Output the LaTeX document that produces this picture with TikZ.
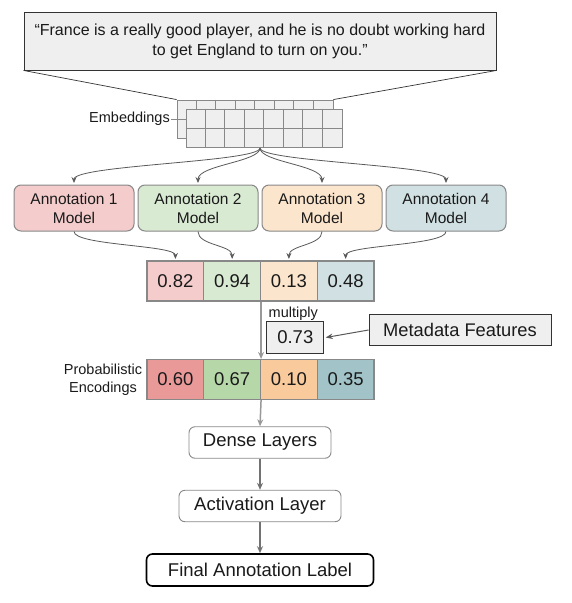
\documentclass[tikz,border=0pt]{standalone}
\usepackage{fontspec}
\setmainfont{Liberation Sans}
\usetikzlibrary{arrows.meta,calc}
\definecolor{rA}{HTML}{F4CCCC}
\definecolor{gA}{HTML}{D9EAD3}
\definecolor{oA}{HTML}{FCE5CD}
\definecolor{cA}{HTML}{D0E0E3}
\definecolor{rB}{HTML}{EA9999}
\definecolor{gB}{HTML}{B6D7A8}
\definecolor{oB}{HTML}{F9CB9C}
\definecolor{cB}{HTML}{A2C4C9}
\definecolor{lgray}{HTML}{EFEFEF}
\definecolor{bord}{HTML}{888888}
\definecolor{dark}{HTML}{333333}
\definecolor{txt}{HTML}{1A1A1A}
\definecolor{arr}{HTML}{595959}
\definecolor{vln}{HTML}{999999}
\tikzset{
  quotebox/.style={draw=dark, fill=lgray, line width=0.9pt, minimum width=472pt, minimum height=58pt, inner sep=0pt, align=center, font=\fontsize{16}{20}\selectfont, text=txt},
  gridbox/.style={draw=bord, fill=lgray, line width=0.9pt, minimum width=156pt, minimum height=38pt, inner sep=0pt},
  gridline/.style={draw=bord, line width=0.9pt},
  annot/.style={draw=bord, line width=1pt, rounded corners=7pt, minimum width=120pt, minimum height=46pt, align=center, font=\fontsize{15.5}{19}\selectfont, inner sep=0pt, text=txt},
  cell/.style={draw=bord, line width=1.1pt, minimum width=56.75pt, minimum height=40pt, inner sep=0pt, font=\fontsize{18.5}{22}\selectfont, text=txt},
  flatbox/.style={draw=dark, fill=lgray, line width=0.9pt, inner sep=0pt, text=txt, font=\fontsize{18.5}{22}\selectfont},
  layerbox/.style={draw=bord, line width=0.9pt, rounded corners=6pt, minimum height=31.5pt, inner sep=0pt, font=\fontsize{18.5}{22}\selectfont, text=txt},
  finalbox/.style={draw=black, line width=1.6pt, rounded corners=6pt, minimum height=32pt, inner sep=0pt, font=\fontsize{18.5}{22}\selectfont, text=txt},
  smalltext/.style={font=\fontsize{14.5}{18}\selectfont, text=txt, align=center, inner sep=0pt},
  thinline/.style={draw=dark, line width=0.7pt},
  fanarrow/.style={draw=arr, line width=0.8pt, -{Stealth[length=6pt,width=5pt]}},
  metaarrow/.style={draw=arr, line width=1pt, -{Stealth[length=7pt,width=5.5pt]}},
  flowarrow/.style={draw=arr!85!white, line width=1.3pt, -{Stealth[length=7pt,width=6pt]}},
  vline/.style={draw=vln, line width=1.5pt, -{Stealth[length=7pt,width=6pt]}},
}
\begin{document}
\begin{tikzpicture}[x=1pt,y=1pt]
\useasboundingbox (0,0) rectangle (572,-603);

% quote
\node[quotebox] (quote) at (260,-41) {“France is a really good player, and he is no doubt working hard\\to get England to turn on you."};

% embeddings grids
\node[gridbox] (back) at (255,-119) {};
\foreach \i in {1,...,7} \draw[gridline] ($(back.north west)+(\i*19.5,0)$) -- ($(back.south west)+(\i*19.5,0)$);
\draw[gridline] (back.west) -- (back.east);
\node[gridbox] (front) at (264.3,-128) {};
\foreach \i in {1,...,7} \draw[gridline] ($(front.north west)+(\i*19.5,0)$) -- ($(front.south west)+(\i*19.5,0)$);
\draw[gridline] (front.west) -- (front.east);

\draw[thinline] (quote.south west) -- (back.north west);
\draw[thinline] (quote.south east) -- (back.north east);

\node[smalltext, anchor=east] (emb) at (170,-119) {Embeddings};
\draw[gridline] ($(emb.east)+(1,0)$) -- (back.west);

\coordinate (fan) at (260,-148);

% annotation models
\node[annot, fill=rA] (a1) at (74,-208) {Annotation 1\\Model};
\node[annot, fill=gA] (a2) at (198,-208) {Annotation 2\\Model};
\node[annot, fill=oA] (a3) at (322,-208) {Annotation 3\\Model};
\node[annot, fill=cA] (a4) at (446,-208) {Annotation 4\\Model};

\foreach \t in {a1,a2,a3,a4}
  \draw[fanarrow] (fan) .. controls +(0,-14) and +(0,18) .. ($(\t.north)+(0,1.5)$);

% values
\node[cell, fill=rA] (v1) at (175.4,-281) {0.82};
\node[cell, fill=gA] (v2) at (232.15,-281) {0.94};
\node[cell, fill=oA] (v3) at (288.9,-281) {0.13};
\node[cell, fill=cA] (v4) at (345.65,-281) {0.48};

\draw[fanarrow] (a1.south) .. controls +(0,-14) and +(0,14) .. ($(v1.north)+(0,1.5)$);
\draw[fanarrow] (a2.south) .. controls +(0,-14) and +(0,14) .. ($(v2.north)+(0,1.5)$);
\draw[fanarrow] (a3.south) .. controls +(0,-14) and +(0,14) .. ($(v3.north)+(0,1.5)$);
\draw[fanarrow] (a4.south) .. controls +(0,-14) and +(0,14) .. ($(v4.north)+(0,1.5)$);

% multiply
\node[flatbox, minimum width=57pt, minimum height=31.6pt] (m73) at (295.3,-337.5) {0.73};
\node[smalltext, anchor=south] (mul) at ($(m73.north)+(-2,1)$) {multiply};
\node[flatbox, minimum width=182pt, minimum height=31.4pt, font=\fontsize{18.3}{22}\selectfont] (meta) at (460,-330) {Metadata Features};
\draw[metaarrow] (meta.west) -- ($(m73.east)+(1.5,0)$);

% probabilistic encodings
\node[cell, fill=rB] (p1) at (175.4,-379.5) {0.60};
\node[cell, fill=gB] (p2) at (232.15,-379.5) {0.67};
\node[cell, fill=oB] (p3) at (288.9,-379.5) {0.10};
\node[cell, fill=cB] (p4) at (345.65,-379.5) {0.35};
\node[smalltext] (plab) at (103,-380) {Probabilistic\\Encodings};

\draw[vline] (v2.south east) -- (p2.north east);

% layers
\node[layerbox, minimum width=142pt] (dense) at (260,-442.5) {Dense Layers};
\node[layerbox, minimum width=162pt] (act) at (260,-506) {Activation Layer};
\node[finalbox, minimum width=227pt] (final) at (260,-570) {Final Annotation Label};

\draw[vline] (p2.south east) -- (dense.north);
\draw[flowarrow] (dense.south) -- (act.north);
\draw[flowarrow] (act.south) -- (final.north);
\end{tikzpicture}
\end{document}
